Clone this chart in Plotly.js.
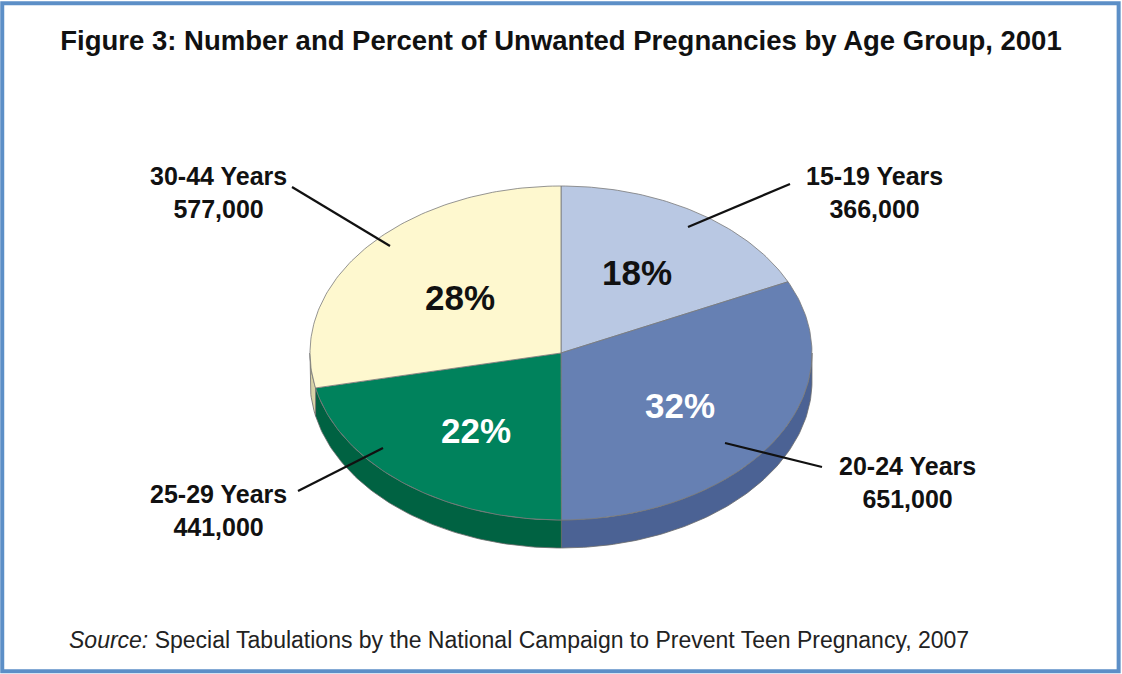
<!DOCTYPE html>
<html><head><meta charset="utf-8">
<script src="https://cdn.plot.ly/plotly-3.0.1.min.js"></script>
<style>html,body{margin:0;padding:0;background:#fff;}#chart{width:1122px;height:674px;}</style>
</head><body><div id="chart"></div>
<script>
const groups = ['15-19 Years', '20-24 Years', '25-29 Years', '30-44 Years'];
const counts = [366000, 651000, 441000, 577000];
const percents = [18, 32, 22, 28];
const topColors = ['#B9C8E3', '#6680B3', '#00825C', '#FEF8CF'];
const sideColors = ['#8E9FC0', '#4B6294', '#006242', '#D8D2A6'];
const pctColors = ['#111111', '#FFFFFF', '#FFFFFF', '#111111'];

// geometry (pixel space)
const cx = 561, cy = 353, rx = 251, ry = 167, depth = 28;
const pctPos = [[637, 272], [680, 405], [476, 430], [460, 297]];
const labelPos = [[874, 192], [907, 482], [218, 510], [218, 192]];
const leader = [[[688, 227], [790, 184]], [[725, 443], [822, 467]], [[383, 448], [298, 491]], [[390, 246], [292, 187]]];

const total = counts.reduce((a, b) => a + b, 0);
const bounds = [0];
counts.forEach(c => bounds.push(bounds[bounds.length - 1] + c / total * 360));

function pt(deg, dy) {
  const t = deg * Math.PI / 180;
  return [cx + rx * Math.sin(t), cy - ry * Math.cos(t) + (dy || 0)];
}
function arc(a, b, dy) {
  const n = Math.max(2, Math.ceil(Math.abs(b - a) / 1));
  const out = [];
  for (let i = 0; i <= n; i++) out.push(pt(a + (b - a) * i / n, dy));
  return out;
}

const traces = [];
// side walls (front half: 90..270 degrees)
counts.forEach((c, i) => {
  const s = Math.max(bounds[i], 90), e = Math.min(bounds[i + 1], 270);
  if (e <= s) return;
  const top = arc(s, e, 0), bot = arc(e, s, depth);
  const pts = top.concat(bot); pts.push(top[0]);
  traces.push({type: 'scatter', mode: 'lines', x: pts.map(p => p[0]), y: pts.map(p => p[1]),
    fill: 'toself', fillcolor: sideColors[i], line: {color: '#6b6b6b', width: 0.8},
    hoverinfo: 'skip', showlegend: false});
});
// top faces
counts.forEach((c, i) => {
  const pts = [[cx, cy]].concat(arc(bounds[i], bounds[i + 1], 0)); pts.push([cx, cy]);
  traces.push({type: 'scatter', mode: 'lines', x: pts.map(p => p[0]), y: pts.map(p => p[1]),
    fill: 'toself', fillcolor: topColors[i], line: {color: '#7a7a7a', width: 0.8},
    name: groups[i], hoverinfo: 'name', showlegend: false});
});

const annotations = [];
groups.forEach((g, i) => {
  annotations.push({x: pctPos[i][0], y: pctPos[i][1], xref: 'x', yref: 'y', text: '<b>' + percents[i] + '%</b>',
    showarrow: false, font: {family: 'Liberation Sans, Arial, sans-serif', size: 35, color: pctColors[i]}});
  annotations.push({x: labelPos[i][0], y: labelPos[i][1], xref: 'x', yref: 'y',
    text: '<b>' + g + '<br>' + counts[i].toLocaleString('en-US') + '</b>',
    showarrow: false, align: 'center', font: {family: 'Liberation Sans, Arial, sans-serif', size: 25, color: '#111'}});
});
annotations.push({x: 67, y: 640, xref: 'x', yref: 'y', xanchor: 'left', showarrow: false,
  text: '<i>Source:</i> Special Tabulations by the National Campaign to Prevent Teen Pregnancy, 2007',
  font: {family: 'Liberation Sans, Arial, sans-serif', size: 23, color: '#222'}});

const shapes = [{type: 'rect', xref: 'paper', yref: 'paper', x0: 0.002, x1: 0.997, y0: 0.004, y1: 0.995,
  line: {color: '#5C8FC7', width: 4}, fillcolor: 'rgba(0,0,0,0)'}];
leader.forEach(l => shapes.push({type: 'line', xref: 'x', yref: 'y', x0: l[0][0], y0: l[0][1], x1: l[1][0], y1: l[1][1],
  line: {color: '#111', width: 2.2}}));

const layout = {
  width: 1122, height: 674, margin: {l: 0, r: 0, t: 0, b: 0},
  paper_bgcolor: '#fff', plot_bgcolor: '#fff',
  title: {text: '<b>Figure 3: Number and Percent of Unwanted Pregnancies by Age Group, 2001</b>',
    x: 0.5, xanchor: 'center', y: 0.94, yanchor: 'middle', yref: 'paper',
    font: {family: 'Liberation Sans, Arial, sans-serif', size: 27.5, color: '#111'}},
  xaxis: {range: [0, 1122], visible: false, fixedrange: true},
  yaxis: {range: [674, 0], visible: false, fixedrange: true},
  annotations: annotations, shapes: shapes, showlegend: false
};
Plotly.newPlot('chart', traces, layout, {displayModeBar: false, staticPlot: true});
</script></body></html>
